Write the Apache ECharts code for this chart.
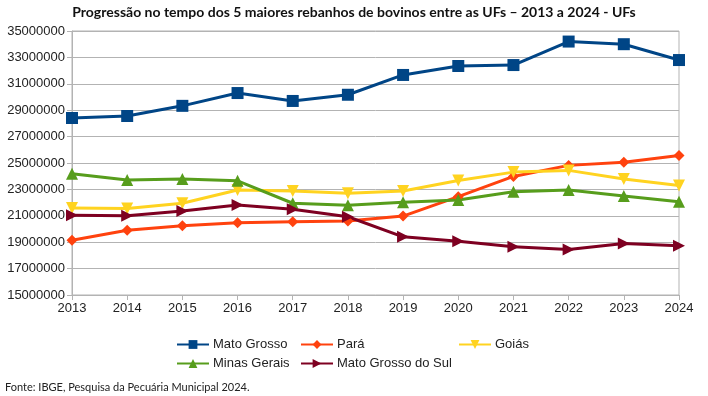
<!DOCTYPE html>
<html><head><meta charset="utf-8">
<script src="https://cdn.jsdelivr.net/npm/echarts@6/dist/echarts.min.js"></script>
<style>html,body{margin:0;padding:0;background:#fff}#c{width:708px;height:396px}</style>
</head><body><div id="c"></div>
<script>
const years = ['2013','2014','2015','2016','2017','2018','2019','2020','2021','2022','2023','2024'];
const matoGrosso = [28410000,28560000,29330000,30300000,29700000,30170000,31670000,32350000,32420000,34200000,34000000,32800000];
const para = [19150000,19910000,20240000,20470000,20540000,20600000,20980000,22450000,23980000,24820000,25050000,25560000];
const goias = [21600000,21550000,21950000,22960000,22880000,22700000,22880000,23670000,24310000,24440000,23780000,23290000];
const minasGerais = [24180000,23710000,23780000,23650000,21950000,21800000,22020000,22200000,22830000,22960000,22500000,22070000];
const matoGrossoSul = [21050000,21000000,21360000,21820000,21490000,20930000,19410000,19080000,18650000,18450000,18900000,18730000];
const seriesNames = ['Mato Grosso','Pará','Goiás','Minas Gerais','Mato Grosso do Sul'];

const chart = echarts.init(document.getElementById('c'));
const lbl = {fontFamily:'Liberation Sans', fontSize:13, color:'#222'};
function mk(name, data, color, symbol, size, rot){
  return {name, type:'line', data, symbol, symbolSize:size, symbolRotate:rot||0,
    lineStyle:{color, width:3}, itemStyle:{color}, color, animation:false};
}
function leg(name, left, top){
  return {data:[name], left, top, itemWidth:32, itemHeight:11, itemGap:4,
    textStyle:{fontFamily:'Liberation Sans', fontSize:13, color:'#222', padding:[0,0,0,-1]}};
}
chart.setOption({
  animation:false,
  title:{text:'Progressão no tempo dos 5 maiores rebanhos de bovinos entre as UFs – 2013 a 2024 - UFs',
    left:'center', top:0, textStyle:{fontFamily:'Lato', fontWeight:'bold', fontSize:14, color:'#111'}},
  grid:{left:72, right:29, top:31, bottom:101, outerBoundsMode:'none', containLabel:false,
    show:true, borderColor:'#b3b3b3', borderWidth:1},
  xAxis:{type:'category', data:years, boundaryGap:false,
    axisLine:{lineStyle:{color:'#b3b3b3'}}, axisTick:{show:true, length:5, lineStyle:{color:'#b3b3b3'}},
    axisLabel:Object.assign({margin:7}, lbl), splitLine:{show:false}},
  yAxis:{type:'value', min:15000000, max:35000000, interval:2000000,
    axisLine:{show:true, lineStyle:{color:'#b3b3b3'}}, axisTick:{show:true, length:5, lineStyle:{color:'#b3b3b3'}},
    axisLabel:Object.assign({margin:7, formatter: v => String(v)}, lbl), splitLine:{lineStyle:{color:'#b3b3b3'}}},
  legend:[leg(seriesNames[0],171,333), leg(seriesNames[1],295,333), leg(seriesNames[2],453,333),
          leg(seriesNames[3],171,352), leg(seriesNames[4],295,352)],
  graphic:[{type:'text', left:5, top:382, style:{text:'Fonte: IBGE, Pesquisa da Pecuária Municipal 2024.',
    fontFamily:'Lato', fontSize:11, fill:'#222'}}],
  series:[
    mk(seriesNames[0], matoGrosso, '#004586', 'rect', 12),
    mk(seriesNames[1], para, '#ff420e', 'diamond', 11),
    mk(seriesNames[2], goias, '#ffd320', 'triangle', 12, 180),
    mk(seriesNames[3], minasGerais, '#579d1c', 'triangle', 12),
    mk(seriesNames[4], matoGrossoSul, '#7e0021', 'triangle', 12, -90)
  ]
});
</script></body></html>
